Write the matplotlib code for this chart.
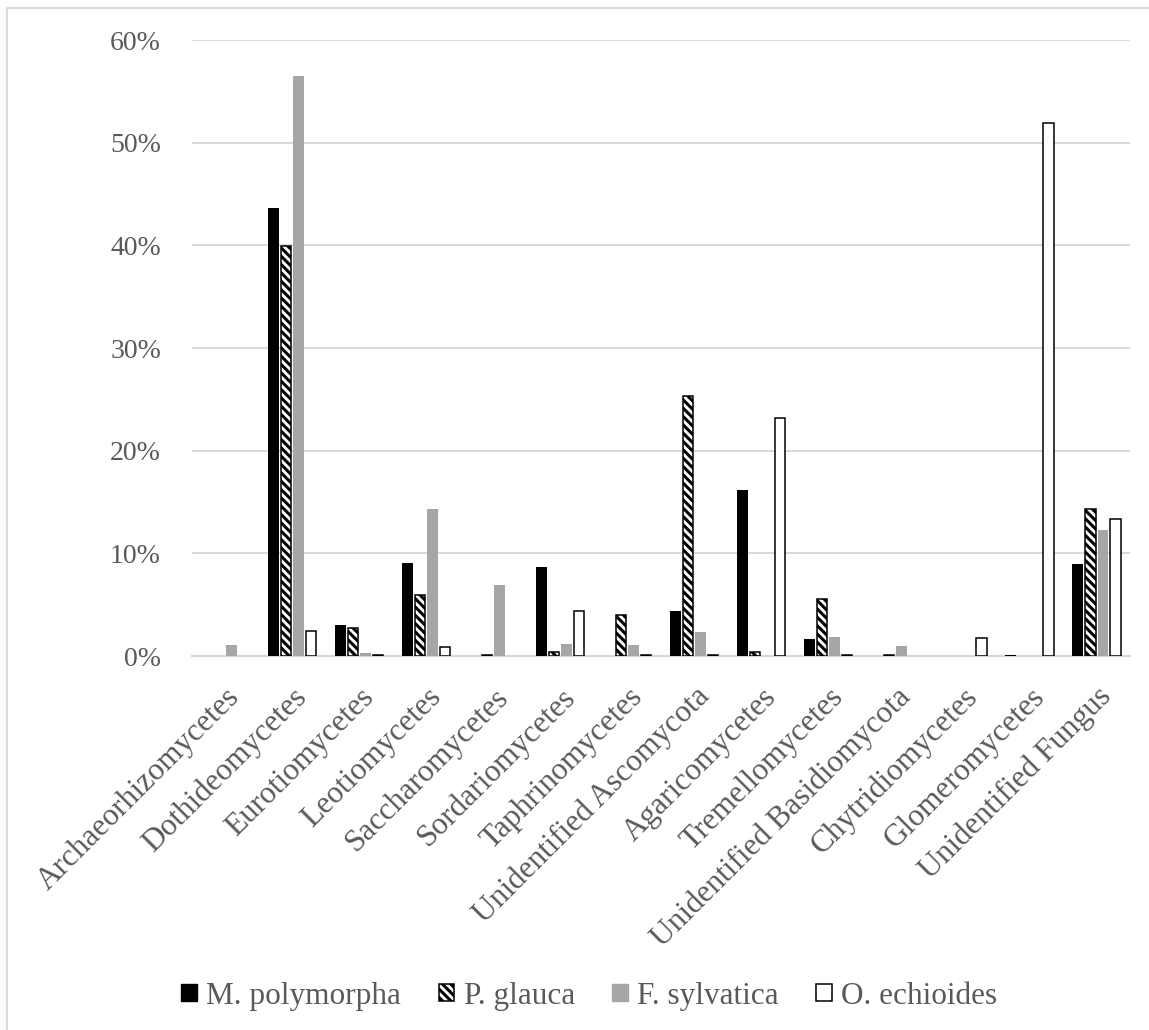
import matplotlib
matplotlib.use("Agg")
import matplotlib.pyplot as plt
import numpy as np
from matplotlib.ticker import PercentFormatter
from matplotlib.patches import Patch
from matplotlib.lines import Line2D

# Relative abundance (%) of fungal classes per host plant
categories = [
    "Archaeorhizomycetes", "Dothideomycetes", "Eurotiomycetes", "Leotiomycetes",
    "Saccharomycetes", "Sordariomycetes", "Taphrinomycetes", "Unidentified Ascomycota",
    "Agaricomycetes", "Tremellomycetes", "Unidentified Basidiomycota",
    "Chytridiomycetes", "Glomeromycetes", "Unidentified Fungus",
]
m_polymorpha = [0.0, 43.6, 3.0, 9.1, 0.0, 8.7, 0.0, 4.4, 16.2, 1.7, 0.0, 0.0, 0.1, 9.0]
p_glauca = [0.0, 39.9, 2.7, 5.9, 0.1, 0.4, 4.0, 25.3, 0.4, 5.6, 0.1, 0.0, 0.0, 14.3]
f_sylvatica = [1.1, 56.5, 0.3, 14.3, 6.9, 1.2, 1.1, 2.3, 0.0, 1.9, 1.0, 0.0, 0.0, 12.3]
o_echioides = [0.0, 2.4, 0.1, 0.9, 0.0, 4.4, 0.1, 0.1, 23.2, 0.1, 0.0, 1.8, 51.9, 13.3]
series_names = ["M. polymorpha", "P. glauca", "F. sylvatica", "O. echioides"]
y_ticks = [0, 10, 20, 30, 40, 50, 60]

TEXT = "#595959"
GRID = "#d9d9d9"
FONT = ["Liberation Serif", "DejaVu Serif"]

plt.rcParams["font.family"] = FONT
plt.rcParams["hatch.linewidth"] = 2.2
plt.rcParams["hatch.color"] = "black"

fig = plt.figure(figsize=(11.49, 10.30), dpi=100)
ax = fig.add_axes([0.1667, 0.3631, 0.8168, 0.598])

x = np.arange(len(categories))
pitch = 0.187
width = 0.157
styles = [
    dict(color="black", edgecolor="none"),
    dict(facecolor="white", edgecolor="black", hatch="\\\\\\\\", linewidth=1.1),
    dict(color="#a6a6a6", edgecolor="none"),
    dict(facecolor="white", edgecolor="black", linewidth=1.1),
]
data = [m_polymorpha, p_glauca, f_sylvatica, o_echioides]
for k, (vals, st) in enumerate(zip(data, styles)):
    vals = np.asarray(vals)
    shown = vals > 0  # empty categories get no bar
    ax.bar(x[shown] + (k - 1.5) * pitch, vals[shown], width, zorder=3, **st)

ax.set_xlim(-0.5, len(categories) - 0.5)
ax.set_ylim(0, 60)
ax.set_yticks(y_ticks)
ax.yaxis.set_major_formatter(PercentFormatter(xmax=100, decimals=0))
ax.grid(axis="y", color=GRID, linewidth=1.4, zorder=0)
ax.set_axisbelow(True)
for side in ["top", "right", "left"]:
    ax.spines[side].set_visible(False)
ax.spines["bottom"].set_color(GRID)
ax.spines["bottom"].set_linewidth(1.6)
ax.spines["bottom"].set_zorder(2)
ax.tick_params(axis="y", length=0, pad=22, labelsize=20, labelcolor=TEXT)
ax.tick_params(axis="x", length=0, labelbottom=False)
ax.set_xticks(x)

# Rotated category labels, anchored at the end of their baseline
for i, name in enumerate(categories):
    ax.text(i + 0.24, -0.068, name, transform=ax.get_xaxis_transform(),
            rotation=45, rotation_mode="anchor", ha="right", va="baseline",
            fontsize=22.5, color=TEXT)

handles = [Patch(**st) for st in styles]
fig.legend(handles, series_names, loc="center", bbox_to_anchor=(0.513, 0.033),
           ncol=4, frameon=False, fontsize=22.5, labelcolor=TEXT,
           handlelength=0.5, handleheight=0.5, handletextpad=0.3,
           columnspacing=1.2)

# Chart frame
fig.add_artist(Line2D([7 / 1149, 7 / 1149], [0, 1 - 8 / 1030], color=GRID,
                      linewidth=1.5, transform=fig.transFigure))
fig.add_artist(Line2D([7 / 1149, 1], [1 - 8 / 1030, 1 - 8 / 1030], color=GRID,
                      linewidth=1.5, transform=fig.transFigure))

fig.savefig("out.png", dpi=100, facecolor="white")
